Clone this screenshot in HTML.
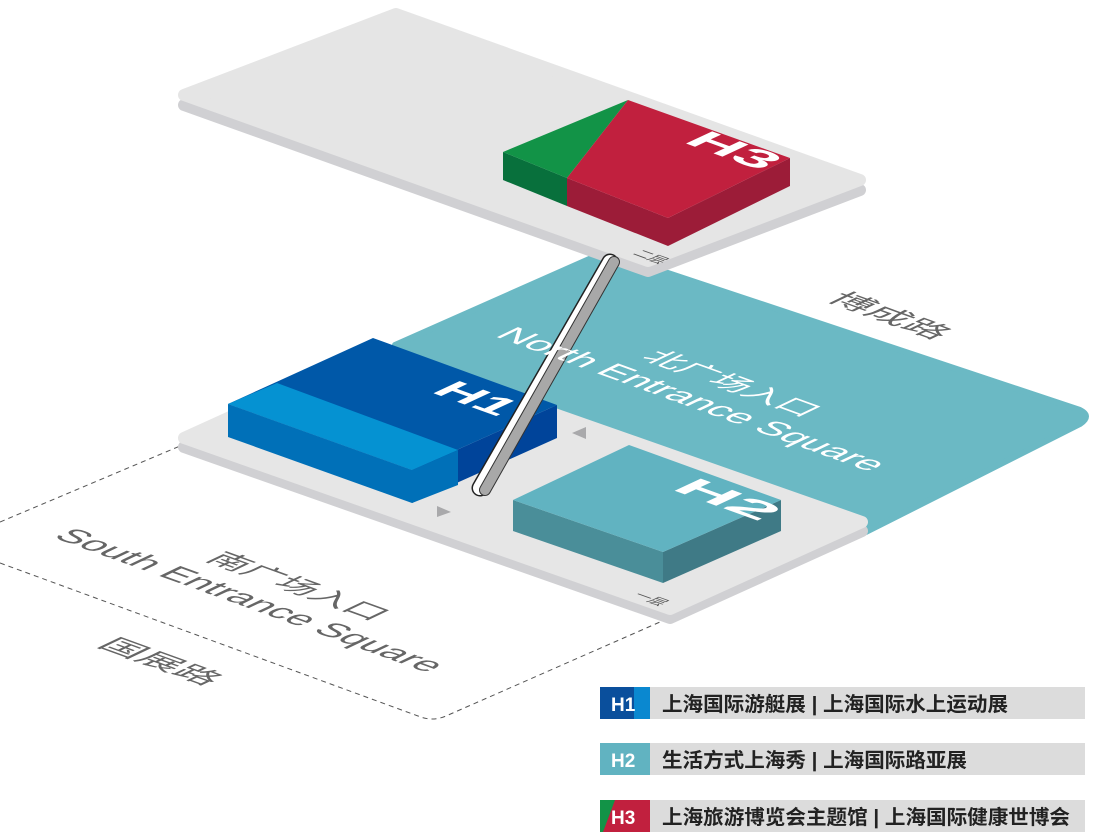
<!DOCTYPE html>
<html><head><meta charset="utf-8"><style>
html,body{margin:0;padding:0;background:#fff;width:1100px;height:840px;overflow:hidden}
svg{display:block}
.lt{font-family:"Liberation Sans","Noto Sans CJK SC",sans-serif}
</style></head><body>
<svg width="1100" height="840" viewBox="0 0 1100 840" xmlns="http://www.w3.org/2000/svg" class="lt">
<!-- south dashed region -->
<path d="M0,522 L180,446" stroke="#555" stroke-width="1" stroke-dasharray="5,4" fill="none"/>
<path d="M0,563 L418,716 Q432,722 446,716 L660,622" stroke="#555" stroke-width="1" stroke-dasharray="5,4" fill="none"/>
<!-- teal north square -->
<path d="M395,345 L605,252 L1080,410 Q1092,416 1080,424 L866,532 L640,520 Z" fill="#6bb9c4" stroke="#6bb9c4" stroke-width="6" stroke-linejoin="round"/>

<!-- lower slab -->
<polygon points="184,438 375,351 862,522 670,609" transform="translate(0,9)" fill="#d0d0d3" stroke="#d0d0d3" stroke-width="12" stroke-linejoin="round"/>
<polygon points="184,438 375,351 862,522 670,609" fill="#e6e6e6" stroke="#e6e6e6" stroke-width="12" stroke-linejoin="round"/>

<!-- H1 -->
<polygon points="228,404 412,470 412,503 228,437" fill="#0070b8"/>
<polygon points="412,470 557,405 557,438 412,503" fill="#00449a"/>
<polygon points="228,404 373,338 557,405 412,470" fill="#0058a8"/>
<polygon points="228,404 277,383 458,450 412,470" fill="#0592d2"/>
<polygon points="412,470 458,450 458,485 412,503" fill="#0070b8"/>
<text transform="matrix(0.94 0.34 -0.86 0.4 430 392)" font-size="44" font-weight="bold" fill="#fff" textLength="72" lengthAdjust="spacingAndGlyphs">H1</text>

<!-- H2 -->
<polygon points="513,500 663,552 663,583 513,531" fill="#4a8e99"/>
<polygon points="663,552 781,500 781,531 663,583" fill="#3f7a86"/>
<polygon points="513,500 629,445 781,500 663,552" fill="#61b3c1"/>
<text transform="matrix(0.94 0.34 -0.86 0.4 670 489)" font-size="44" font-weight="bold" fill="#fff" textLength="96" lengthAdjust="spacingAndGlyphs">H2</text>

<!-- arrows -->
<polygon points="572,433 586,427 586,439" fill="#a9a9ab"/>
<polygon points="437,506 451,512 437,517" fill="#a9a9ab"/>
<text transform="matrix(0.94 0.34 -0.8 0.38 632 596)" font-size="17" fill="#555" textLength="30" lengthAdjust="spacingAndGlyphs">一层</text>

<!-- top slab -->
<polygon points="184,95 396,14 860,180 648,261" transform="translate(0,10)" fill="#d0d0d3" stroke="#d0d0d3" stroke-width="12" stroke-linejoin="round"/>
<polygon points="184,95 396,14 860,180 648,261" fill="#e5e5e5" stroke="#e5e5e5" stroke-width="12" stroke-linejoin="round"/>

<!-- H3 -->
<polygon points="503,152 567,178 567,206 503,180" fill="#08703c"/>
<polygon points="567,178 668,218 668,246 567,206" fill="#9c1c38"/>
<polygon points="668,218 790,158 790,186 668,246" fill="#9c1c38"/>
<polygon points="503,152 628,100 567,178" fill="#129347"/>
<polygon points="628,100 790,158 668,218 567,178" fill="#c1203e"/>
<text transform="matrix(0.94 0.34 -0.86 0.4 682 142)" font-size="44" font-weight="bold" fill="#fff" textLength="84" lengthAdjust="spacingAndGlyphs">H3</text>
<text transform="matrix(0.94 0.34 -0.8 0.38 632 254)" font-size="17" fill="#555" textLength="30" lengthAdjust="spacingAndGlyphs">二层</text>

<!-- bridge -->
<path d="M480,488 L610,262" stroke="#222" stroke-width="17" stroke-linecap="round"/>
<path d="M480,488 L610,262" stroke="#fff" stroke-width="14" stroke-linecap="round"/>
<path d="M485,490 L614,262" stroke="#333" stroke-width="12" stroke-linecap="round"/>
<path d="M485,490 L614,262" stroke="#a8a8a8" stroke-width="10" stroke-linecap="round"/>

<!-- ground labels -->
<text transform="matrix(0.94 0.34 -0.8 0.38 825 300)" font-size="34" fill="#666" textLength="118" lengthAdjust="spacingAndGlyphs">博成路</text>
<text transform="matrix(0.94 0.34 -0.8 0.38 640 358)" font-size="34" fill="#fff" textLength="175" lengthAdjust="spacingAndGlyphs">北广场入口</text>
<text transform="matrix(0.94 0.34 -0.8 0.38 494 336)" font-size="38" fill="#fff" textLength="400" lengthAdjust="spacingAndGlyphs">North Entrance Square</text>
<text transform="matrix(0.94 0.34 -0.8 0.38 204 560)" font-size="34" fill="#666" textLength="180" lengthAdjust="spacingAndGlyphs">南广场入口</text>
<text transform="matrix(0.94 0.34 -0.8 0.38 52 537)" font-size="38" fill="#666" textLength="400" lengthAdjust="spacingAndGlyphs">South Entrance Square</text>
<text transform="matrix(0.94 0.34 -0.8 0.38 96 646)" font-size="34" fill="#666" textLength="118" lengthAdjust="spacingAndGlyphs">国展路</text>

<!-- legend -->
<rect x="650" y="687" width="435" height="32" fill="#dcdcdc"/>
<rect x="600" y="687" width="34" height="32" fill="#0a4f9c"/>
<rect x="634" y="687" width="16" height="32" fill="#0a88d0"/>
<text x="611" y="711" font-size="19" font-weight="bold" fill="#fff">H1</text>
<text x="662" y="711" font-size="20" font-weight="bold" fill="#222" textLength="346" lengthAdjust="spacingAndGlyphs">上海国际游艇展 | 上海国际水上运动展</text>

<rect x="650" y="743" width="435" height="32" fill="#dcdcdc"/>
<rect x="600" y="743" width="50" height="32" fill="#61b3c1"/>
<text x="611" y="767" font-size="19" font-weight="bold" fill="#fff">H2</text>
<text x="662" y="767" font-size="20" font-weight="bold" fill="#222" textLength="305" lengthAdjust="spacingAndGlyphs">生活方式上海秀 | 上海国际路亚展</text>

<rect x="650" y="800" width="435" height="32" fill="#dcdcdc"/>
<rect x="600" y="800" width="50" height="32" fill="#c1203e"/>
<polygon points="600,800 615,800 603,832 600,832" fill="#129347"/>
<text x="611" y="824" font-size="19" font-weight="bold" fill="#fff">H3</text>
<text x="662" y="824" font-size="20" font-weight="bold" fill="#222" textLength="408" lengthAdjust="spacingAndGlyphs">上海旅游博览会主题馆 | 上海国际健康世博会</text>
</svg>
</body></html>
